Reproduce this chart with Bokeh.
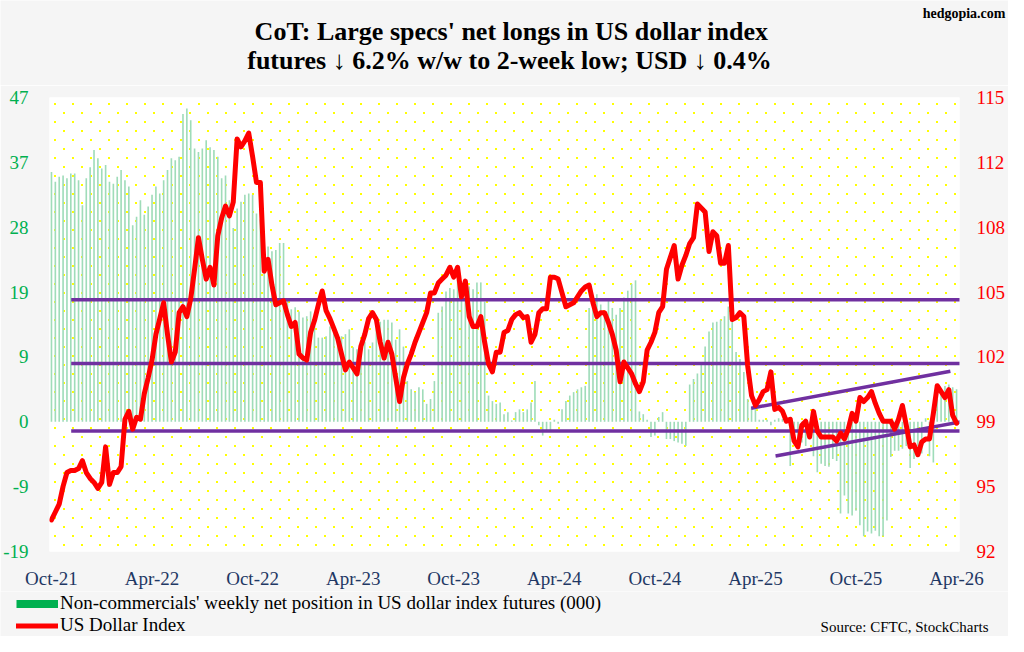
import base64
import struct
import zlib

from bokeh.plotting import figure
from bokeh.layouts import column
from bokeh.models import (Range1d, LinearAxis, FixedTicker, Label, Legend,
                          LegendItem, BoxAnnotation, ImageURLTexture)
from bokeh.embed import file_html
from bokeh.resources import INLINE

# ---------------- data ----------------
x_tick_labels = ["Oct-21", "Apr-22", "Oct-22", "Apr-23", "Oct-23",
                 "Apr-24", "Oct-24", "Apr-25", "Oct-25", "Apr-26"]
left_tick_labels = ["-19", "-9", "0", "9", "19", "28", "37", "47"]
right_tick_labels = ["92", "95", "99", "102", "105", "108", "112", "115"]

# Non-commercials' weekly net position in US dollar index futures (000)
net_positions = [
    36.2, 34.8, 35.5, 35.7, 35.3, 36.0, 36.0, 35.0, 31.4, 35.3,
    36.9, 39.4, 38.2, 36.7, 37.2, 34.8, 34.5, 35.5, 36.5, 35.0,
    34.1, 28.5, 29.7, 32.1, 30.0, 31.2, 32.9, 34.1, 33.1, 35.0,
    36.5, 38.2, 37.9, 38.4, 44.6, 45.4, 43.7, 39.6, 39.1, 39.6,
    40.8, 39.8, 39.4, 38.4, 35.3, 35.7, 32.1, 28.1, 30.9, 31.9,
    32.9, 33.1, 32.9, 30.2, 29.3, 26.8, 25.4, 24.7, 24.9, 25.9,
    25.9, 17.5, 16.3, 16.6, 16.0, 15.1, 15.3, 16.0, 13.9, 12.2,
    12.2, 12.4, 13.8, 13.1, 12.7, 12.4, 12.7, 13.4, 10.8, 10.5,
    11.2, 11.6, 10.5, 11.5, 13.8, 14.5, 14.8, 14.8, 14.4, 11.9,
    13.4, 10.9, 5.9, 4.7, 4.3, 5.0, 4.7, 2.6, 3.3, 5.9,
    15.8, 16.7, 18.9, 19.4, 19.2, 20.6, 19.6, 20.6, 19.6, 19.2,
    20.2, 20.2, 17.4, 3.8, 3.0, 2.6, 2.8, 1.1, 1.4, 0.2,
    1.4, 1.8, 1.4, 1.8, 2.8, 5.9, -0.5, -2.0, -1.2, -1.5,
    0.3, -0.3, 1.8, 3.0, 3.8, 4.3, 4.7, 5.0, 5.2, 16.5,
    17.5, 18.5, 17.0, 16.0, 17.5, 16.5, 15.5, 16.5, 18.0, 19.0,
    20.0, 20.5, 1.5, 1.1, 0.3, -2.2, -2.0, 0.7, 1.4, -2.5,
    -2.5, -2.8, -3.0, -3.2, -3.5, 5.4, 6.2, 7.0, 8.3, 10.9,
    13.1, 14.4, 14.5, 14.8, 15.3, 16.7, 15.5, 10.1, 9.1, 7.2,
    3.3, 2.1, 1.8, 0.3, 0.3, 0.3, -0.5, 0.3, 0.5, 0.4,
    0.3, -6.4, -2.0, -3.6, -3.0, -3.5, -2.5, -5.0, -7.3, -6.1,
    -6.4, -6.5, -5.4, -5.7, -13.3, -10.7, -13.3, -13.6, -12.9, -15.0,
    -16.6, -15.9, -16.2, -15.8, -16.6, -16.6, -14.3, -5.1, -4.2, -4.2,
    -3.9, -3.5, -6.7, -5.4, -3.5, -4.6, 0.5, -5.0, -5.9, 3.3,
    4.3, 5.2, 5.4, 5.0, 4.7,
]

# US Dollar Index (weekly)
usd_index = [
    93.6, 94.0, 94.4, 95.3, 96.0, 96.1, 96.1, 96.2, 96.6, 96.0,
    95.7, 95.5, 95.2, 95.5, 97.3, 95.4, 96.0, 96.0, 96.3, 98.7,
    99.1, 98.2, 98.8, 98.7, 100.0, 100.8, 101.7, 103.0, 103.8, 104.6,
    103.0, 101.6, 102.1, 104.1, 104.4, 103.9, 104.8, 106.3, 107.9, 106.8,
    105.8, 106.4, 105.5, 108.0, 108.9, 109.5, 109.0, 109.7, 112.9, 112.5,
    112.8, 113.2, 112.0, 110.7, 110.7, 106.2, 106.8, 105.5, 104.5, 104.6,
    104.7, 104.0, 103.4, 103.6, 102.0, 101.8, 101.7, 103.1, 103.7, 104.5,
    105.2, 104.2, 103.8, 103.3, 102.8, 102.0, 101.2, 101.6, 101.3, 101.0,
    102.4, 103.0, 103.8, 104.1, 103.75, 102.6, 101.8, 102.6, 102.0, 100.8,
    99.6, 100.8, 101.5, 102.0, 102.6, 103.1, 103.6, 104.1, 105.1, 105.1,
    105.6, 105.8, 106.0, 106.4, 105.9, 106.4, 104.9, 105.7, 103.9, 103.4,
    103.4, 103.9, 102.6, 101.5, 101.1, 102.1, 102.1, 103.1, 103.2, 103.75,
    104.0, 104.1, 103.85, 103.9, 102.6, 103.0, 104.1, 104.3, 104.3, 105.9,
    105.9, 105.8, 105.1, 104.4, 104.5, 104.6, 104.9, 105.2, 105.4, 105.5,
    104.6, 103.9, 104.1, 104.1, 103.6, 103.0, 102.2, 100.6, 101.6, 101.3,
    101.0, 100.5, 100.1, 100.6, 102.2, 102.6, 103.1, 104.1, 104.4, 106.3,
    106.9, 107.5, 105.8, 106.5, 107.0, 107.6, 107.9, 109.6, 109.4, 109.2,
    107.2, 108.2, 108.0, 106.6, 106.6, 107.5, 103.75, 103.85, 104.1, 103.9,
    101.4, 99.9, 99.4, 99.7, 100.1, 100.2, 101.1, 99.2, 99.3, 99.1,
    98.6, 98.7, 97.6, 97.3, 98.4, 98.6, 97.8, 99.1, 98.1, 97.8,
    97.8, 97.8, 97.8, 97.6, 98.0, 97.7, 98.2, 99.0, 98.6, 99.8,
    99.6, 99.8, 100.1, 99.5, 99.0, 98.6, 98.6, 98.6, 98.2, 98.7,
    99.4, 98.4, 97.3, 97.4, 96.9, 97.55, 97.7, 97.7, 99.0, 100.4,
    100.1, 99.8, 100.2, 98.9, 98.5,
]

# purple support / resistance lines (US dollar index scale)
horizontal_levels = [104.76, 101.53, 98.1]
horizontal_weeks = [5.1, 235.3]
channel_upper_weeks = [180.9, 232.4]
channel_upper_levels = [99.26, 101.13]
channel_lower_weeks = [187.2, 239.0]
channel_lower_levels = [96.84, 98.71]

weeks = list(range(len(net_positions)))
x_tick_weeks = [26 * k for k in range(len(x_tick_labels))]

LEFT_MIN, LEFT_MAX = -18.8, 47.0
RIGHT_MIN, RIGHT_MAX = 92.0, 115.0
left_ticks = [LEFT_MIN + k * (LEFT_MAX - LEFT_MIN) / 7 for k in range(8)]
right_ticks = [RIGHT_MIN + k * (RIGHT_MAX - RIGHT_MIN) / 7 for k in range(8)]

SERIF = "Liberation Serif"
GREEN = "#00b050"
RED = "#ff0000"
PURPLE = "#7030a0"
NAVY = "#1f3864"
PAGE = "#f5f5f5"
W = 1008


# ---------------- yellow dot texture (small png tile) ----------------
def dot_tile_png(size=18, dot=2):
    rows = []
    for yy in range(size):
        row = bytearray(b"\x00")
        for xx in range(size):
            on = (xx < dot and yy < dot) or (
                size // 2 <= xx < size // 2 + dot and size // 2 <= yy < size // 2 + dot)
            row += bytes((255, 255, 0, 255)) if on else bytes((0, 0, 0, 0))
        rows.append(bytes(row))

    def chunk(tag, data):
        return (struct.pack(">I", len(data)) + tag + data +
                struct.pack(">I", zlib.crc32(tag + data) & 0xffffffff))

    png = (b"\x89PNG\r\n\x1a\n" +
           chunk(b"IHDR", struct.pack(">IIBBBBB", size, size, 8, 6, 0, 0, 0)) +
           chunk(b"IDAT", zlib.compress(b"".join(rows))) +
           chunk(b"IEND", b""))
    return "data:image/png;base64," + base64.b64encode(png).decode()


def bare(fig):
    fig.outline_line_color = None
    fig.background_fill_color = PAGE
    fig.border_fill_color = PAGE
    fig.grid.visible = False
    fig.frame_align = False


def lab(fig, text, x, y, size, align="center", bold=False, color="#000000"):
    fig.add_layout(Label(x=x, y=y, text=text, text_font=SERIF,
                         text_font_size=size,
                         text_font_style="bold" if bold else "normal",
                         text_color=color, text_align=align,
                         text_baseline="middle"))


# ---------------- header (title) ----------------
hdr = figure(width=W, height=85, output_backend="svg", toolbar_location=None,
             title=None, x_range=Range1d(0, W), y_range=Range1d(85, 0),
             x_axis_location=None, y_axis_location=None, min_border=0)
bare(hdr)
lab(hdr, "CoT: Large specs' net longs in US dollar index", 511, 30.5, "26px", bold=True)
lab(hdr, "futures \u2193 6.2% w/w to 2-week low; USD \u2193 0.4%", 509, 59.5, "26px", bold=True)
lab(hdr, "hedgopia.com", 1005, 13, "14px", align="right", bold=True)

# ---------------- main chart ----------------
p = figure(width=W, height=506, output_backend="svg", toolbar_location=None,
           x_range=Range1d(-0.51, 234.76), y_range=Range1d(LEFT_MIN, LEFT_MAX),
           min_border_left=46, min_border_right=40,
           min_border_top=12, min_border_bottom=38)
p.frame_align = False
p.extra_y_ranges = {"usd": Range1d(RIGHT_MIN, RIGHT_MAX)}
p.background_fill_color = "white"
p.border_fill_color = PAGE
p.outline_line_color = None
p.xgrid.visible = False
p.ygrid.visible = False

# yellow dotted plot area
dots = ImageURLTexture(url=dot_tile_png(), repetition="repeat")
p.add_layout(BoxAnnotation(fill_alpha=0, line_color=None,
                           hatch_extra={"ydots": dots}, hatch_pattern="ydots",
                           level="underlay"))

# bars
p.vbar(x=weeks, top=net_positions, bottom=0, width=0.42,
       fill_color="#9fdcb9", line_color=None)

# purple lines
for lvl in horizontal_levels:
    p.line(horizontal_weeks, [lvl, lvl], y_range_name="usd",
           line_color=PURPLE, line_width=3.5)
p.line(channel_upper_weeks, channel_upper_levels, y_range_name="usd",
       line_color=PURPLE, line_width=3.5)
p.line(channel_lower_weeks, channel_lower_levels, y_range_name="usd",
       line_color=PURPLE, line_width=3.5)

# USD line
p.line(weeks, usd_index, y_range_name="usd", line_color=RED,
       line_width=5, line_join="round", line_cap="round")

xa = p.xaxis[0]
xa.ticker = FixedTicker(ticks=x_tick_weeks)
xa.major_label_overrides = {t: l for t, l in zip(x_tick_weeks, x_tick_labels)}
xa.major_label_text_font = SERIF
xa.major_label_text_font_size = "19px"
xa.major_label_text_color = NAVY
xa.major_label_standoff = 10
xa.axis_line_color = None
xa.major_tick_line_color = None
xa.minor_tick_line_color = None

ya = p.yaxis[0]
ya.ticker = FixedTicker(ticks=left_ticks)
ya.major_label_overrides = {t: l for t, l in zip(left_ticks, left_tick_labels)}
ya.major_label_text_font = SERIF
ya.major_label_text_font_size = "19px"
ya.major_label_text_color = GREEN
ya.major_label_standoff = 15
ya.axis_line_color = None
ya.major_tick_line_color = None
ya.minor_tick_line_color = None

ra = LinearAxis(y_range_name="usd", ticker=FixedTicker(ticks=right_ticks))
ra.major_label_overrides = {t: l for t, l in zip(right_ticks, right_tick_labels)}
ra.major_label_text_font = SERIF
ra.major_label_text_font_size = "19px"
ra.major_label_text_color = RED
ra.major_label_standoff = 11
ra.axis_line_color = None
ra.major_tick_line_color = None
ra.minor_tick_line_color = None
p.add_layout(ra, "right")

# ---------------- footer (legend + source) ----------------
ftr = figure(width=W, height=45, output_backend="svg", toolbar_location=None,
             title=None, x_range=Range1d(0, W), y_range=Range1d(636, 591),
             x_axis_location=None, y_axis_location=None, min_border=0)
bare(ftr)
nan = float("nan")
bar_key = ftr.line(x=[nan], y=[nan], line_color=GREEN, line_width=8, line_cap="butt")
usd_key = ftr.line(x=[nan], y=[nan], line_color=RED, line_width=5, line_cap="round")
legend = Legend(items=[
    LegendItem(label="Non-commercials' weekly net position in US dollar index futures (000)",
               renderers=[bar_key]),
    LegendItem(label="US Dollar Index", renderers=[usd_key]),
], location=(16, 0), orientation="vertical", glyph_width=42, glyph_height=19,
    label_height=19, label_standoff=2, spacing=0, padding=0, margin=0,
    border_line_color=None, background_fill_alpha=0, label_text_font=SERIF,
    label_text_font_size="19px", label_text_color="#000000")
ftr.add_layout(legend)
lab(ftr, "Source: CFTC, StockCharts", 988, 626, "15px", align="right")

layout = column(hdr, p, ftr, spacing=0)
open("out.html", "w").write(file_html(layout, INLINE))
